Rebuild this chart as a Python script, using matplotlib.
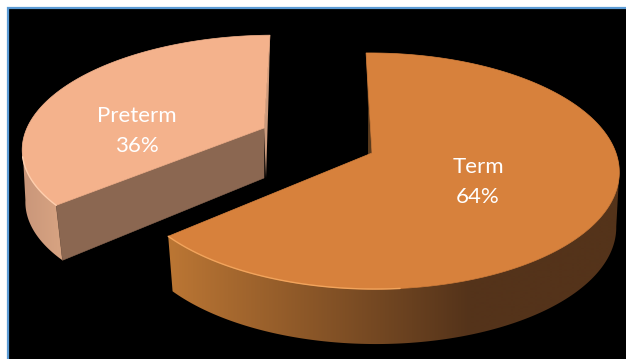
import numpy as np
import matplotlib
matplotlib.use("Agg")
import matplotlib.pyplot as plt
from matplotlib.patches import Polygon, Rectangle
from matplotlib.colors import to_rgb

labels = ["Term", "Preterm"]
values = [64, 36]

W, H = 626, 359
fig = plt.figure(figsize=(W / 100, H / 100), dpi=100, facecolor="white")
ax = fig.add_axes([0, 0, 1, 1])
ax.axis("off")

ax.add_patch(Rectangle((7.5, 7.5), W, H, fc="black", ec="#5b9bd5", lw=1.6, zorder=0))

K = 0.1525
start = -1.0
sweep = [v / sum(values) * 360 for v in values]
t_term = (start, start + sweep[0])
t_pre = (start + sweep[0], start + 360)


def rim(theta, a, b, A, B, sk):
    t = np.radians(theta)
    u, v = np.sin(t), np.cos(t)
    w = 1 + K * v
    return a + B * u / w + sk * v / w, b - A * v / w


def wall(t0, t1, top, low, c_left, c_right, x_left, x_right, z):
    th = np.linspace(t0, t1, 200)
    x1, y1 = rim(th, *top)
    x2, y2 = rim(th, *low)
    pts = np.column_stack([np.r_[x1, x2[::-1]], np.r_[y1, y2[::-1]]])
    poly = Polygon(pts, closed=True, fc="none", ec="none", transform=ax.transData)
    ax.add_patch(poly)
    xs = np.arange(0, W + 1)
    f = np.clip((xs - x_left) / (x_right - x_left), 0, 1)[None, :, None]
    img = np.array(to_rgb(c_left))[None, None, :] * (1 - f) + np.array(to_rgb(c_right))[None, None, :] * f
    im = ax.imshow(img, extent=(0, W, H, 0), aspect="auto", zorder=z, interpolation="bilinear")
    im.set_clip_path(poly)


def top_face(t0, t1, p, color, z):
    th = np.linspace(t0, t1, 300)
    x, y = rim(th, *p)
    pts = np.column_stack([np.r_[p[0], x], np.r_[p[1], y]])
    ax.add_patch(Polygon(pts, closed=True, fc=color, ec=color, lw=0.5, zorder=z))


# ---- Term slice
term_top = (372, 153, 115.3, 244, -2.6)
term_low = (373, 208, 115.3, 240, -2.6)
xf, yf = rim(t_term[0], *term_top)
xlf, ylf = rim(t_term[0], *term_low)
ax.add_patch(Polygon([(xf, yf), (xlf + 1, ylf), (368, 156), (372, 153)], closed=True,
                     fc="#5a3a1c", ec="none", zorder=2))
wall(99, t_term[1], term_top, term_low, "#bb7634", "#54331a", 170, 470, 2)
top_face(*t_term, term_top, "#d7813c", 3)
th = np.linspace(175, t_term[1], 60)
hx, hy = rim(th, *term_top)
ax.plot(hx, hy, color="#f2a45c", lw=1.0, zorder=4, solid_capstyle="round")

# ---- Preterm slice
pre_top = (264, 128, 107, 237, 11.1)
pre_low = (265, 183, 107, 236, 5)
xe, ye = rim(t_pre[0], *pre_top)
xle, yle = rim(t_pre[0], *pre_low)
xf, yf = rim(t_pre[1], *pre_top)
xlf, ylf = rim(t_pre[1], *pre_low)

ax.add_patch(Polygon([(xf, yf), (xlf + 3, ylf), (266, 178), (264, 128)], closed=True,
                     fc="#cb9a7c", ec="none", zorder=5))
wall(t_pre[0], 261, pre_top, pre_low, "#c9967a", "#d8a482", 22, 62, 5)
ax.add_patch(Polygon([(xe, ye), (264, 128), (264, 178), (xle, yle)], closed=True,
                     fc="#8b6751", ec="#8b6751", lw=0.4, zorder=6))
top_face(*t_pre, pre_top, "#f4b28c", 7)
th = np.linspace(t_pre[0], 255, 40)
hx, hy = rim(th, *pre_top)
ax.plot(hx, hy, color="#ffcfae", lw=1.0, zorder=8, solid_capstyle="round")

# ---- Labels
font = ["Lato", "DejaVu Sans"]
pos = {"Term": (478, 182), "Preterm": (137, 131.5)}
for name, val in zip(labels, values):
    px, py = pos[name]
    ax.text(px, py - 15, name, color="white", ha="center", va="center", fontsize=16,
            family=font, zorder=10)
    ax.text(px, py + 15, f"{val}%", color="white", ha="center", va="center", fontsize=16,
            family=font, zorder=10)

ax.set_xlim(0, W)
ax.set_ylim(H, 0)
fig.savefig("out.png", dpi=100, facecolor="white")
